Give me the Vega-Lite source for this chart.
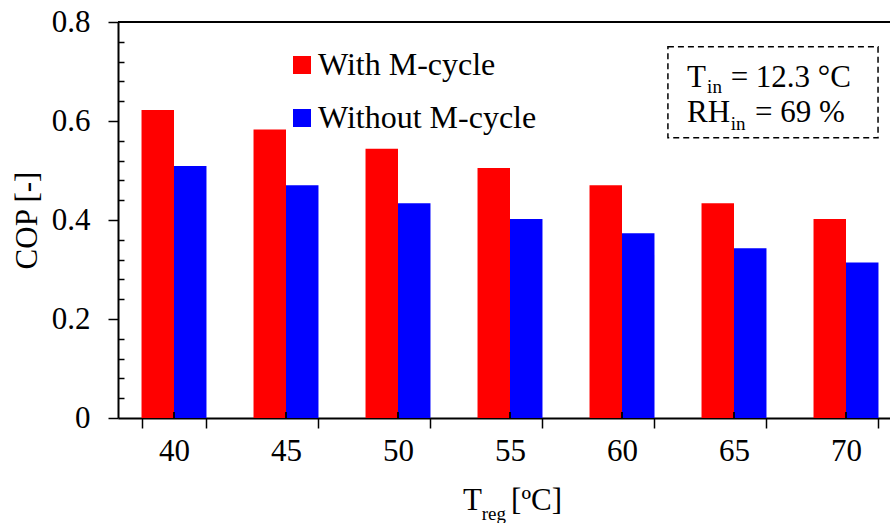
{
  "$schema": "https://vega.github.io/schema/vega-lite/v6.json",
  "width": 772,
  "height": 396,
  "autosize": {"type": "none"},
  "padding": {"left": 118, "top": 22, "right": 0, "bottom": 105},
  "background": "white",
  "config": {
    "view": {"stroke": null},
    "font": "Liberation Serif",
    "text": {"font": "Liberation Serif", "color": "black"},
    "axis": {
      "labelFont": "Liberation Serif",
      "titleFont": "Liberation Serif",
      "labelColor": "black",
      "titleColor": "black",
      "domainColor": "black",
      "tickColor": "black",
      "grid": false
    },
    "axisY": {"labelOverlap": false, "labelBound": false}
  },
  "layer": [
    {
      "data": {
        "values": [
          {"T": 40, "case": "With M-cycle", "COP": 0.622},
          {"T": 40, "case": "Without M-cycle", "COP": 0.509},
          {"T": 45, "case": "With M-cycle", "COP": 0.583},
          {"T": 45, "case": "Without M-cycle", "COP": 0.470},
          {"T": 50, "case": "With M-cycle", "COP": 0.544},
          {"T": 50, "case": "Without M-cycle", "COP": 0.434},
          {"T": 55, "case": "With M-cycle", "COP": 0.505},
          {"T": 55, "case": "Without M-cycle", "COP": 0.402},
          {"T": 60, "case": "With M-cycle", "COP": 0.470},
          {"T": 60, "case": "Without M-cycle", "COP": 0.373},
          {"T": 65, "case": "With M-cycle", "COP": 0.434},
          {"T": 65, "case": "Without M-cycle", "COP": 0.343},
          {"T": 70, "case": "With M-cycle", "COP": 0.402},
          {"T": 70, "case": "Without M-cycle", "COP": 0.314}
        ]
      },
      "layer": [
        {
          "mark": {"type": "bar"},
          "encoding": {
            "x": {
              "field": "T",
              "type": "ordinal",
              "scale": {"range": [0, 784], "paddingInner": 0.42, "paddingOuter": 0.21},
              "axis": {
                "title": null,
                "labelAngle": 0,
                "labelFontSize": 31,
                "labelPadding": 8,
                "tickSize": 10,
                "tickWidth": 1.5,
                "domainWidth": 2,
                "tickBand": "extent"
              }
            },
            "xOffset": {
              "field": "case",
              "type": "nominal",
              "scale": {"domain": ["With M-cycle", "Without M-cycle"], "paddingInner": 0, "paddingOuter": 0}
            },
            "y": {
              "field": "COP",
              "type": "quantitative",
              "scale": {"domain": [0, 0.8], "nice": false},
              "axis": {
                "title": "COP [-]",
                "titleFontSize": 31,
                "titleFontWeight": "normal",
                "titlePadding": 8,
                "labelFontSize": 31,
                "labelPadding": 18,
                "labelOverlap": false,
                "tickCount": 40,
                "domainWidth": 2,
                "tickWidth": 1.5,
                "values": [0, 0.04, 0.08, 0.12, 0.16, 0.2, 0.24, 0.28, 0.32, 0.36, 0.4, 0.44, 0.48, 0.52, 0.56, 0.6, 0.64, 0.68, 0.72, 0.76, 0.8],
                "labelExpr": "round(datum.value*100) % 20 === 0 ? (datum.value === 0 ? '0' : format(datum.value, '.1f')) : ''",
                "tickSize": {"condition": {"test": "round(datum.value*100) % 20 === 0", "value": 10}, "value": -6}
              }
            },
            "color": {
              "field": "case",
              "type": "nominal",
              "scale": {"domain": ["With M-cycle", "Without M-cycle"], "range": ["#ff0000", "#0000ff"]},
              "legend": {
                "orient": "none",
                "legendX": 168,
                "legendY": 27,
                "title": null,
                "symbolType": "square",
                "symbolSize": 324,
                "symbolStrokeWidth": 0,
                "symbolOpacity": 1,
                "labelFontSize": 32,
                "labelFont": "Liberation Serif",
                "labelColor": "black",
                "labelOffset": 0,
                "rowPadding": 21,
                "labelLimit": 400
              }
            }
          }
        },
        {
          "mark": {"type": "rule", "color": "black", "strokeWidth": 1.5},
          "encoding": {
            "x": {"field": "T", "type": "ordinal"},
            "y": {"datum": 0},
            "y2": {"datum": 0.012}
          }
        },
        {
          "mark": {"type": "rule", "color": "black", "strokeWidth": 2},
          "encoding": {"y": {"datum": 0.8}}
        }
      ]
    },
    {
      "data": {"values": [{}]},
      "layer": [
        {
          "mark": {"type": "rect", "fill": null, "stroke": "black", "strokeWidth": 1.5, "strokeDash": [6, 4]},
          "encoding": {
            "x": {"datum": 62.05, "type": "quantitative", "scale": {"domain": [37.5, 72.5], "range": [0, 784], "nice": false, "zero": false}, "axis": null},
            "x2": {"datum": 71.43},
            "y": {"datum": 0.750},
            "y2": {"datum": 0.566}
          }
        },
        {
          "mark": {"type": "text", "text": "T", "fontSize": 31, "align": "left", "baseline": "alphabetic"},
          "encoding": {"x": {"datum": 62.90, "type": "quantitative", "axis": null}, "y": {"datum": 0.669}}
        },
        {
          "mark": {"type": "text", "text": "in", "fontSize": 19, "align": "left", "baseline": "alphabetic"},
          "encoding": {"x": {"datum": 63.80, "type": "quantitative", "axis": null}, "y": {"datum": 0.657}}
        },
        {
          "mark": {"type": "text", "text": "= 12.3 °C", "fontSize": 31, "align": "left", "baseline": "alphabetic"},
          "encoding": {"x": {"datum": 64.85, "type": "quantitative", "axis": null}, "y": {"datum": 0.669}}
        },
        {
          "mark": {"type": "text", "text": "RH", "fontSize": 31, "align": "left", "baseline": "alphabetic"},
          "encoding": {"x": {"datum": 62.90, "type": "quantitative", "axis": null}, "y": {"datum": 0.597}}
        },
        {
          "mark": {"type": "text", "text": "in", "fontSize": 19, "align": "left", "baseline": "alphabetic"},
          "encoding": {"x": {"datum": 64.85, "type": "quantitative", "axis": null}, "y": {"datum": 0.581}}
        },
        {
          "mark": {"type": "text", "text": "= 69 %", "fontSize": 31, "align": "left", "baseline": "alphabetic"},
          "encoding": {"x": {"datum": 65.94, "type": "quantitative", "axis": null}, "y": {"datum": 0.597}}
        },
        {
          "mark": {"type": "text", "text": "T", "fontSize": 31, "align": "left", "baseline": "alphabetic"},
          "encoding": {"x": {"datum": 52.90, "type": "quantitative", "axis": null}, "y": {"datum": -0.185}}
        },
        {
          "mark": {"type": "text", "text": "reg", "fontSize": 19, "align": "left", "baseline": "alphabetic"},
          "encoding": {"x": {"datum": 53.74, "type": "quantitative", "axis": null}, "y": {"datum": -0.2055}}
        },
        {
          "mark": {"type": "text", "text": "[ºC]", "fontSize": 31, "align": "left", "baseline": "alphabetic"},
          "encoding": {"x": {"datum": 55.05, "type": "quantitative", "axis": null}, "y": {"datum": -0.185}}
        }
      ]
    }
  ],
  "resolve": {"scale": {"x": "independent"}}
}
